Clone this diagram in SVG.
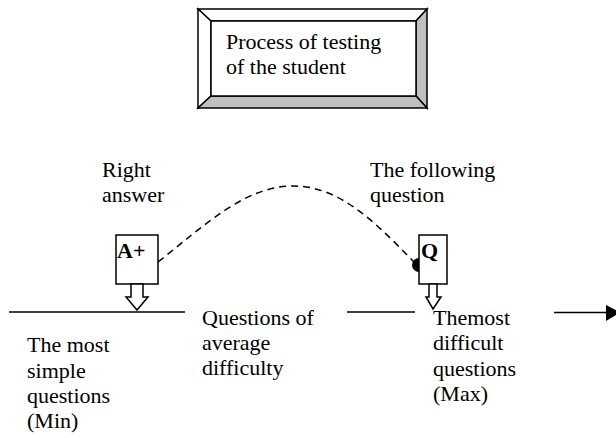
<svg xmlns="http://www.w3.org/2000/svg" width="616" height="438" viewBox="0 0 616 438">
<style>
text{font-family:"Liberation Serif","Times New Roman",serif;font-size:22px;fill:#000}
.b{font-weight:bold}
.s{stroke:#000;stroke-width:1.5}
.w{fill:#fff}
.g{fill:#c0c0c0}
</style>
<rect width="616" height="438" fill="#fff"/>
<g id="title">
<polygon class="s w" points="198,9 427,9 416,21 211,21"/>
<polygon class="s w" points="198,9 211,21 211,96 198,108"/>
<polygon class="s g" points="427,9 427,108 416,96 416,21"/>
<polygon class="s g" points="198,108 427,108 416,96 211,96"/>
<rect class="s w" x="211" y="21" width="205" height="75"/>
<text x="226" y="49">Process of testing</text>
<text x="226" y="74">of the student</text>
</g>
<g id="connectors" fill="none">
<line class="s" x1="9" y1="312" x2="185" y2="312"/>
<line class="s" x1="347" y1="312" x2="415" y2="312"/>
<line class="s" x1="554" y1="312.5" x2="608" y2="312.5"/>
<polygon points="606,305 620,312.5 606,321" fill="#000"/>
<path class="s" d="M158,262 C205,225 245,186 293,186 C340,186 375,222 415,263" stroke-dasharray="7,5"/>
</g>
<g id="right-answer">
<text x="102" y="177">Right</text>
<text x="102" y="202">answer</text>
</g>
<g id="following-question">
<text x="370" y="177">The following</text>
<text x="370" y="202">question</text>
</g>
<g id="node-a">
<rect class="s w" x="116" y="235" width="42" height="49"/>
<text class="b" x="117" y="258">A+</text>
<polygon class="s w" points="131,284 143,284 143,297 148,297 137,310 126,297 131,297"/>
</g>
<g id="node-q">
<path d="M419,258 A7,7 0 0 0 419,272 Z" fill="#000"/>
<rect class="s w" x="419" y="235" width="28" height="49"/>
<text class="b" x="421" y="258">Q</text>
<polygon class="s w" points="429,284 437,284 437,297 441,297 433,309 426,297 429,297"/>
</g>
<g id="min">
<text x="27" y="352">The most</text>
<text x="27" y="378">simple</text>
<text x="27" y="403">questions</text>
<text x="27" y="428">(Min)</text>
</g>
<g id="average">
<text x="202" y="325">Questions of</text>
<text x="202" y="350">average</text>
<text x="202" y="375">difficulty</text>
</g>
<g id="max">
<text x="433" y="325">Themost</text>
<text x="433" y="350">difficult</text>
<text x="433" y="376">questions</text>
<text x="433" y="401">(Max)</text>
</g>
</svg>
